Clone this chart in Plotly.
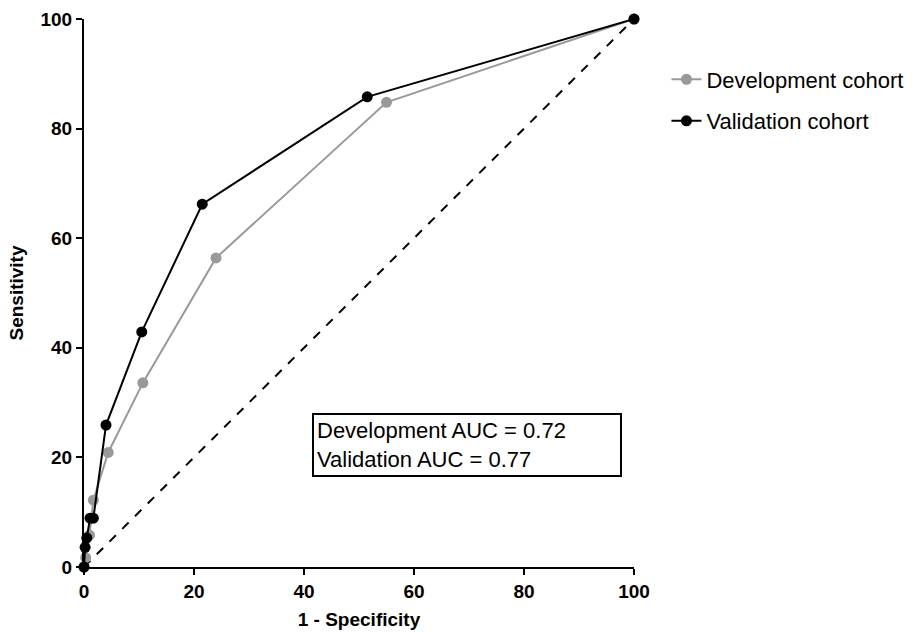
import plotly.graph_objects as go

dev_x = [0, 0.3, 1.0, 1.7, 4.4, 10.7, 24.0, 55.0, 100]
dev_y = [0, 1.7, 5.8, 12.2, 20.9, 33.6, 56.4, 84.8, 100]
val_x = [0, 0.2, 0.5, 1.1, 1.7, 4.0, 10.5, 21.5, 51.5, 100]
val_y = [0, 3.6, 5.3, 8.9, 8.9, 25.9, 42.9, 66.2, 85.8, 100]
ref_x = [0, 100]
ref_y = [0, 100]
ticks = [0, 20, 40, 60, 80, 100]

fig = go.Figure()
fig.add_trace(go.Scatter(x=ref_x, y=ref_y, mode="lines",
                         line=dict(color="black", width=2, dash="dash"),
                         showlegend=False, cliponaxis=False))
fig.add_trace(go.Scatter(x=dev_x, y=dev_y, mode="lines+markers", name="Development cohort",
                         line=dict(color="#999999", width=2),
                         marker=dict(color="#999999", size=11),
                         legendgroup="a", cliponaxis=False))
fig.add_trace(go.Scatter(x=val_x, y=val_y, mode="lines+markers", name="Validation cohort",
                         line=dict(color="black", width=2),
                         marker=dict(color="black", size=11),
                         legendgroup="b", cliponaxis=False))

axis_common = dict(range=[0, 100], tickvals=ticks, showgrid=False, zeroline=False,
                   showline=True, linecolor="black", linewidth=2, automargin=False,
                   ticks="outside", ticklen=6, tickwidth=2, tickcolor="black",
                   tickfont=dict(family="Liberation Sans", size=19, color="black", weight="bold"))

fig.update_xaxes(**axis_common,
                 title=dict(text="<b>1 - Specificity</b>", standoff=12,
                            font=dict(family="Liberation Sans", size=19, color="black")))
fig.update_yaxes(**axis_common,
                 title=dict(text="<b>Sensitivity</b>", standoff=12,
                            font=dict(family="Liberation Sans", size=19, color="black")))

fig.add_annotation(x=0.415, y=0.2235, xref="paper", yref="paper", xanchor="left", yanchor="middle",
                   text="Development AUC = 0.72<br>Validation AUC = 0.77", align="left",
                   showarrow=False, bordercolor="black", borderwidth=2, borderpad=3,
                   width=300, bgcolor="white",
                   font=dict(family="Liberation Sans", size=22, color="black"))

fig.update_layout(width=912, height=633,
                  margin=dict(l=84, r=278, t=19, b=66, autoexpand=False),
                  plot_bgcolor="white", paper_bgcolor="white",
                  legend=dict(x=1.059, y=0.928, xanchor="left", yanchor="top",
                              tracegroupgap=10,
                              font=dict(family="Liberation Sans", size=22, color="black")))

fig.write_html("out.html", config={"displayModeBar": False},
               post_script="document.body.style.margin='0';")
